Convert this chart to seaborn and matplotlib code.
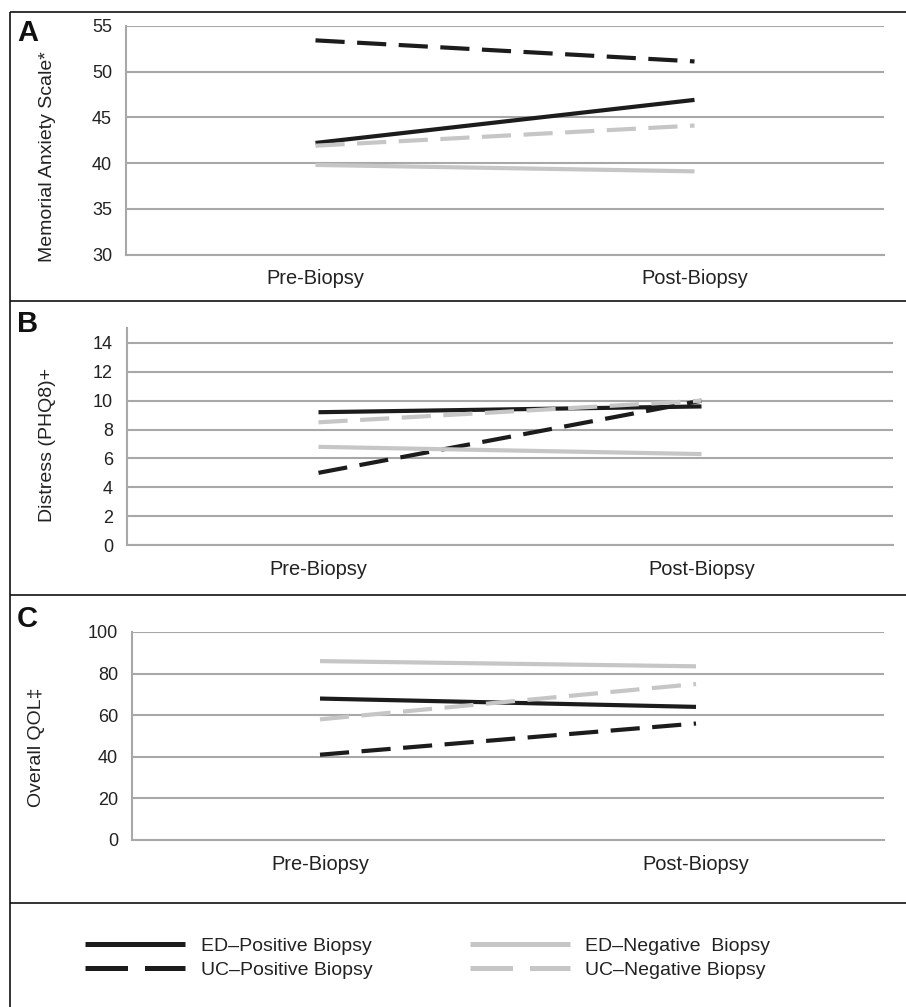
import pandas as pd
import numpy as np
import matplotlib.pyplot as plt
import seaborn as sns
from matplotlib.lines import Line2D

# --- data ---
groups = ["ED–Positive Biopsy", "UC–Positive Biopsy", "ED–Negative  Biopsy", "UC–Negative Biopsy"]
timepoints = ["Pre-Biopsy", "Post-Biopsy"]

anxiety_pre = [42.2, 53.4, 39.8, 41.9]
anxiety_post = [46.9, 51.1, 39.1, 44.1]
distress_pre = [9.2, 5.0, 6.8, 8.5]
distress_post = [9.6, 10.0, 6.3, 10.0]
qol_pre = [68, 41, 86, 58]
qol_post = [64, 56, 83.5, 75]

BLACK = "#1c1c1c"
GREY = "#c6c6c6"
palette = {groups[0]: BLACK, groups[1]: BLACK, groups[2]: GREY, groups[3]: GREY}
dashes = {groups[0]: "", groups[1]: (7, 3), groups[2]: "", groups[3]: (7, 3)}


def long_df(pre, post):
    rows = []
    for g, a, b in zip(groups, pre, post):
        rows.append({"group": g, "time": timepoints[0], "value": a})
        rows.append({"group": g, "time": timepoints[1], "value": b})
    d = pd.DataFrame(rows)
    d["time"] = pd.Categorical(d["time"], categories=timepoints, ordered=True)
    return d


sns.set_style("white")
plt.rcParams["font.family"] = ["Liberation Sans", "DejaVu Sans"]
plt.rcParams["lines.solid_capstyle"] = "butt"
plt.rcParams["lines.dash_capstyle"] = "butt"

W, H = 906, 1007
fig = plt.figure(figsize=(W / 100, H / 100), dpi=100)


def px_axes(left, right, top, bottom):
    return fig.add_axes([left / W, 1 - bottom / H, (right - left) / W, (bottom - top) / H])


panels = [
    dict(pre=anxiety_pre, post=anxiety_post, box=(126, 884, 25.7, 254.7),
         ylim=(30, 55), yticks=np.arange(30, 56, 5), ylabel="Memorial Anxiety Scale*",
         lab_x=56, lab_y=0.43, letter="A", letter_y=41),
    dict(pre=distress_pre, post=distress_post, box=(127, 893, 328.5, 545),
         ylim=(0, 15), yticks=np.arange(0, 15, 2), ylabel="Distress (PHQ8)+",
         lab_x=56, lab_y=0.46, letter="B", letter_y=332),
    dict(pre=qol_pre, post=qol_post, box=(132, 884, 632, 840),
         ylim=(0, 100), yticks=np.arange(0, 101, 20), ylabel="Overall QOL‡",
         lab_x=45, lab_y=0.447, letter="C", letter_y=627),
]

GRID = "#a8a8a8"
for p in panels:
    left, right, top, bottom = p["box"]
    ax = px_axes(left, right, top, bottom)
    df = long_df(p["pre"], p["post"])
    sns.lineplot(data=df, x="time", y="value", hue="group", style="group",
                 hue_order=groups, style_order=groups, palette=palette,
                 dashes=dashes, linewidth=3, legend=False, ax=ax, zorder=3)
    ax.set_xlim(-0.5, 1.5)
    ax.set_ylim(*p["ylim"])
    ax.set_yticks(p["yticks"])
    ax.set_xticks([0, 1])
    ax.set_xticklabels(timepoints)
    ax.set_xticks([-0.5, 0.5, 1.5], minor=True)
    ax.tick_params(axis="x", which="major", length=0, pad=10.5, labelsize=14.4, colors="#222222")
    ax.tick_params(axis="x", which="minor", length=5, width=1.2, color=GRID, direction="out")
    ax.tick_params(axis="y", length=4, width=1.2, color=GRID, direction="out",
                   pad=6, labelsize=13, labelcolor="#222222")
    ax.yaxis.grid(True, color=GRID, linewidth=1.5)
    ax.set_axisbelow(True)
    for s in ["top", "right"]:
        ax.spines[s].set_visible(False)
    for s in ["left", "bottom"]:
        ax.spines[s].set_color(GRID)
        ax.spines[s].set_linewidth(1.5)
    ax.set_xlabel("")
    ax.set_ylabel(p["ylabel"], fontsize=14, color="#222222")
    ax.yaxis.set_label_coords((p["lab_x"] - left) / (right - left), p["lab_y"])
    fig.text(17 / W, 1 - p["letter_y"] / H, p["letter"], fontsize=21,
             fontweight="bold", ha="left", va="baseline", color="#111111")

# panel borders
for y in [12, 301, 595, 903]:
    fig.add_artist(Line2D([9.5 / W, 1], [1 - y / H, 1 - y / H], color="#111111",
                          linewidth=1.2, transform=fig.transFigure))
fig.add_artist(Line2D([9.5 / W, 9.5 / W], [1 - 12 / H, 0], color="#111111",
                      linewidth=1.2, transform=fig.transFigure))

# legend
handles = [Line2D([], [], color=palette[g], linewidth=3.6, solid_capstyle="butt",
                  dash_capstyle="butt",
                  linestyle="-" if dashes[g] == "" else (0, (8.5, 3.4))) for g in groups]
fig.legend(handles, groups, ncol=2, loc="upper left",
           bbox_to_anchor=(85 / W, 1 - 937 / H), frameon=False, fontsize=14,
           handlelength=5.15, handletextpad=0.8, columnspacing=5.0,
           labelspacing=0.35, borderpad=0, borderaxespad=0, labelcolor="#222222")

fig.savefig("out.png", dpi=100)
